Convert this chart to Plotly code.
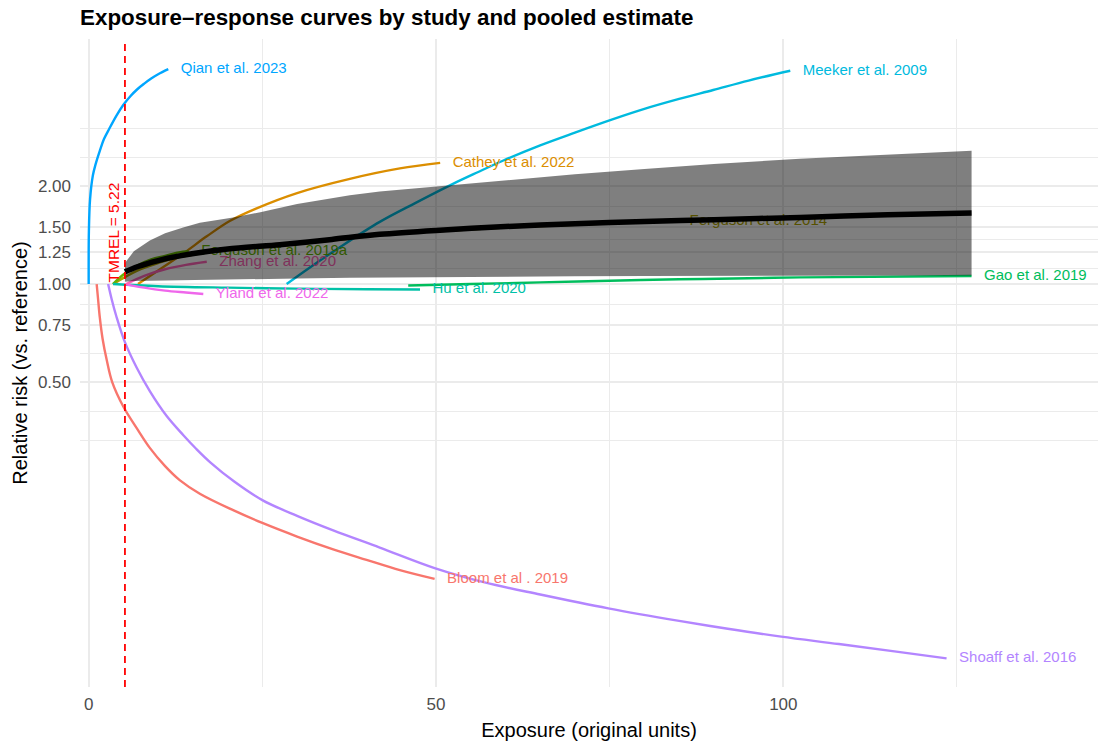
import plotly.graph_objects as go

# ---------------- data ----------------
bloom_x = [1.15, 1.35, 1.6, 2.0, 2.6, 3.4, 5.0, 7.1, 8.8, 11.0, 13.1, 16.0, 20.8, 25.0, 30.0, 35.2, 40.0, 44.8, 49.8]
bloom_y = [1.0, 0.90, 0.79, 0.68, 0.585, 0.50, 0.421, 0.357, 0.315, 0.277, 0.251, 0.228, 0.203, 0.1855, 0.1686, 0.154, 0.143, 0.133, 0.125]

cathey_x = [7.1, 10.0, 13.6, 17.0, 20.3, 24.0, 30.0, 37.6, 44.8, 50.6]
cathey_y = [1.0, 1.10, 1.24, 1.40, 1.56, 1.70, 1.90, 2.10, 2.26, 2.35]

ferg14_x = [3.5, 5.22, 7.0, 10.0, 13.1, 20.0, 27.5, 35.0, 41.9, 50.0, 60.0, 70.0, 80.0, 84.7]
ferg14_y = [1.0, 1.05, 1.10, 1.16, 1.21, 1.27, 1.31, 1.36, 1.41, 1.45, 1.49, 1.52, 1.55, 1.56]

ferg19_x = [3.5, 5.0, 7.0, 9.0, 11.0, 13.0, 14.4]
ferg19_y = [1.0, 1.07, 1.14, 1.19, 1.22, 1.25, 1.26]

gao_x = [46.0, 55.0, 65.0, 75.0, 85.0, 95.0, 102.4, 112.7, 127.1]
gao_y = [0.99, 1.0, 1.012, 1.024, 1.034, 1.042, 1.048, 1.052, 1.058]

hu_x = [3.5, 10.0, 20.0, 30.0, 40.0, 47.7]
hu_y = [1.0, 0.985, 0.975, 0.968, 0.964, 0.962]

meeker_x = [28.5, 32.0, 36.0, 41.9, 47.0, 52.3, 56.0, 59.7, 65.0, 70.0, 75.5, 80.0, 85.0, 89.9, 95.0, 101.0]
meeker_y = [1.0, 1.13, 1.29, 1.55, 1.77, 2.02, 2.20, 2.39, 2.66, 2.91, 3.20, 3.44, 3.69, 3.93, 4.20, 4.50]

qian_x = [0.0, 0.03, 0.2, 0.6, 1.0, 1.6, 2.2, 3.0, 4.0, 5.0, 6.0, 7.0, 8.0, 9.0, 10.0, 11.46]
qian_y = [1.0, 1.45, 1.82, 2.15, 2.33, 2.56, 2.78, 3.0, 3.28, 3.54, 3.76, 3.95, 4.11, 4.26, 4.39, 4.55]

shoaff_x = [2.8, 3.3, 4.0, 5.2, 6.9, 8.8, 11.2, 13.6, 15.5, 17.5, 21.0, 25.0, 30.0, 35.2, 41.9,
            49.8, 57.0, 65.0, 74.8, 85.0, 92.0, 99.7, 108.0, 116.0, 123.5]
shoaff_y = [1.0, 0.90, 0.794, 0.665, 0.555, 0.470, 0.395, 0.345, 0.3125, 0.2845, 0.248, 0.218, 0.195, 0.176, 0.156,
            0.135, 0.122, 0.112, 0.1016, 0.093, 0.088, 0.0832, 0.079, 0.075, 0.0714]

yland_x = [5.22, 8.0, 11.0, 14.0, 16.5]
yland_y = [1.0, 0.975, 0.955, 0.942, 0.932]

zhang_x = [5.4, 8.0, 11.0, 14.0, 17.0]
zhang_y = [1.0, 1.06, 1.11, 1.145, 1.17]

pooled_x = [5.22, 7.0, 10.0, 13.1, 20.0, 27.5, 35.0, 41.9, 50.0, 60.0, 70.0, 80.0, 90.0, 102.4, 115.0, 127.1]
pooled_y = [1.09, 1.13, 1.18, 1.22, 1.28, 1.32, 1.37, 1.42, 1.46, 1.50, 1.53, 1.555, 1.575, 1.60, 1.63, 1.65]

ribbon_x = [5.22, 6.5, 8.8, 11.0, 13.6, 16.0, 20.8, 24.7, 30.0, 37.6, 41.9, 50.0, 60.0, 70.0, 80.0, 90.0, 102.4, 115.0, 127.1]
ribbon_hi = [1.16, 1.26, 1.36, 1.43, 1.49, 1.54, 1.60, 1.66, 1.76, 1.87, 1.92, 1.99, 2.08, 2.17, 2.25, 2.33, 2.42, 2.49, 2.56]
ribbon_lo = [1.016, 1.022, 1.026, 1.028, 1.030, 1.032, 1.035, 1.037, 1.040, 1.046, 1.050, 1.053, 1.055, 1.057, 1.058, 1.060, 1.062, 1.063, 1.063]

tmrel = 5.22

study_names = ["Bloom et al . 2019", "Cathey et al. 2022", "Ferguson et al. 2014", "Ferguson et al. 2019a",
               "Gao et al. 2019", "Hu et al. 2020", "Meeker et al. 2009", "Qian et al. 2023",
               "Shoaff et al. 2016", "Yland et al. 2022", "Zhang et al. 2020"]
study_x = [bloom_x, cathey_x, ferg14_x, ferg19_x, gao_x, hu_x, meeker_x, qian_x, shoaff_x, yland_x, zhang_x]
study_y = [bloom_y, cathey_y, ferg14_y, ferg19_y, gao_y, hu_y, meeker_y, qian_y, shoaff_y, yland_y, zhang_y]
study_colors = ["#F8766D", "#DB8E00", "#AEA200", "#64B200", "#00BD5C", "#00C1A7",
                "#00BADE", "#00A6FF", "#B385FF", "#EF67EB", "#FF63B6"]

y_ticks = [0.5, 0.75, 1.0, 1.25, 1.5, 2.0]
y_ticktext = ["0.50", "0.75", "1.00", "1.25", "1.50", "2.00"]
x_ticks = [0, 50, 100]

FONT = "Liberation Sans, Arial, sans-serif"

fig = go.Figure()

for name, xs, ys, col in zip(study_names, study_x, study_y, study_colors):
    fig.add_trace(go.Scatter(x=xs, y=ys, mode="lines",
                             line=dict(color=col, width=2.4, shape="spline", smoothing=1.0),
                             name=name, showlegend=False, hoverinfo="skip"))

for name, xs, ys, col in zip(study_names, study_x, study_y, study_colors):
    fig.add_trace(go.Scatter(x=[xs[-1] + 1.8], y=[ys[-1]], mode="text", text=[name],
                             textposition="middle right",
                             textfont=dict(family=FONT, size=15, color=col),
                             showlegend=False, hoverinfo="skip"))

# pooled ribbon (drawn over the study curves and labels)
fig.add_trace(go.Scatter(x=ribbon_x + ribbon_x[::-1], y=ribbon_hi + ribbon_lo[::-1],
                         mode="lines", fill="toself", fillcolor="rgba(0,0,0,0.5)",
                         line=dict(width=0), showlegend=False, hoverinfo="skip"))

fig.add_trace(go.Scatter(x=pooled_x, y=pooled_y, mode="lines",
                         line=dict(color="black", width=5.5, shape="spline", smoothing=0.8),
                         showlegend=False, hoverinfo="skip"))

fig.add_shape(type="line", x0=tmrel, x1=tmrel, xref="x", yref="paper", y0=0, y1=1,
              line=dict(color="red", width=1.8, dash="7px,5px"), layer="above")

fig.add_annotation(x=tmrel, y=0, xref="x", yref="y", text="TMREL = 5.22", textangle=-90,
                   showarrow=False, xanchor="right", yanchor="bottom", xshift=-1, yshift=0,
                   font=dict(family=FONT, size=15.5, color="red"))

y_minor = [3.0, 2.449, 1.732, 1.369, 1.118, 0.866, 0.612, 0.408, 0.333]

fig.update_layout(
    width=1098, height=745,
    margin=dict(l=80, r=0, t=39, b=58),
    plot_bgcolor="white", paper_bgcolor="white",
    font=dict(family=FONT, color="black"),
    title=dict(text="Exposure–response curves by study and pooled estimate",
               font=dict(family=FONT, size=22.4, color="black", weight="bold"),
               x=0, xref="paper", xanchor="left", y=1 - 17 / 745, yref="container", yanchor="middle"),
    xaxis=dict(range=[-1.25, 145.3], tickvals=x_ticks, ticks="", showline=False, zeroline=False,
               showgrid=True, gridcolor="#EBEBEB", gridwidth=1.9, ticklabelstandoff=5,
               minor=dict(tickvals=[25, 75, 125], showgrid=True, gridcolor="#EBEBEB", gridwidth=1, ticks=""),
               tickfont=dict(family=FONT, size=17, color="#4D4D4D"),
               title=dict(text="Exposure (original units)", font=dict(family=FONT, size=20, color="black"),
                          standoff=9)),
    yaxis=dict(type="log", range=[-1.234, 0.7505], tickvals=y_ticks, ticktext=y_ticktext,
               ticks="", showline=False, zeroline=False, ticklabelstandoff=8,
               showgrid=True, gridcolor="#EBEBEB", gridwidth=1.9,
               minor=dict(tickvals=y_minor, showgrid=True, gridcolor="#EBEBEB", gridwidth=1, ticks=""),
               tickfont=dict(family=FONT, size=17, color="#4D4D4D"),
               title=dict(text="Relative risk (vs. reference)", font=dict(family=FONT, size=20, color="black"),
                          standoff=4)),
)

fig.write_html("out.html")
